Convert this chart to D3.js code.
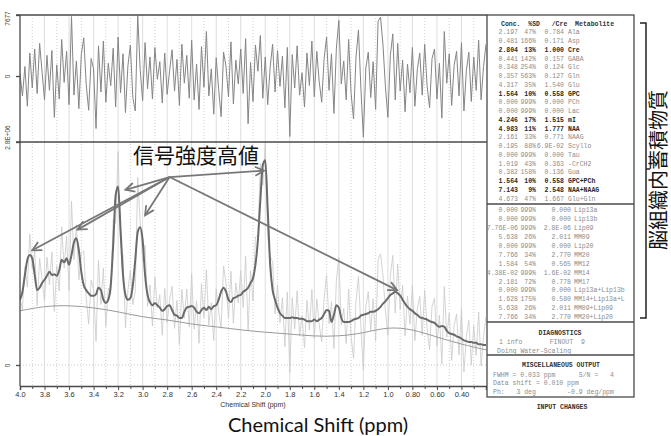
<!DOCTYPE html>
<html>
<head>
<meta charset="utf-8">
<script src="https://cdn.jsdelivr.net/npm/d3@7"></script>
<style>
  body { margin: 0; background: #fff; }
  svg { display: block; }
</style>
</head>
<body>
<svg id="chart" width="671" height="436"></svg>
<script>
// spectrum sampled every 0.02 ppm from 4.00 down to 0.20
var ppmStart = 4.0, ppmStep = 0.02;

// LCModel fit, in units of 1E+06
var fitValues = [
  0.82, 0.92, 1.13, 1.32, 1.38, 1.34, 1.13, 0.94, 0.97, 1.03,
  1.07, 1.12, 1.17, 1.13, 1.14, 1.12, 1.19, 1.32, 1.29, 1.34,
  1.26, 1.38, 1.54, 1.59, 1.44, 1.17, 1.00, 0.94, 0.90, 0.87,
  0.87, 0.89, 0.97, 0.94, 0.82, 0.78, 0.82, 1.00, 1.51, 2.13,
  2.24, 1.70, 1.13, 0.88, 0.82, 0.84, 1.00, 1.32, 1.67, 1.73,
  1.57, 1.13, 0.88, 0.79, 0.75, 0.78, 0.75, 0.72, 0.68, 0.70,
  0.74, 0.75, 0.69, 0.63, 0.62, 0.59, 0.59, 0.67, 0.72, 0.73,
  0.74, 0.72, 0.67, 0.65, 0.69, 0.72, 0.69, 0.73, 0.70, 0.74,
  0.75, 0.82, 0.92, 0.97, 0.92, 0.82, 0.79, 0.84, 0.85, 0.87,
  0.88, 0.92, 0.94, 0.97, 1.03, 1.09, 1.26, 1.57, 2.07, 2.51,
  2.57, 1.95, 1.26, 0.94, 0.82, 0.72, 0.65, 0.62, 0.59, 0.59,
  0.59, 0.60, 0.59, 0.59, 0.58, 0.58, 0.57, 0.55, 0.55, 0.55,
  0.57, 0.55, 0.57, 0.59, 0.64, 0.69, 0.68, 0.54, 0.63, 0.75,
  0.72, 0.59, 0.54, 0.54, 0.54, 0.55, 0.57, 0.58, 0.59, 0.62,
  0.63, 0.64, 0.65, 0.67, 0.67, 0.68, 0.70, 0.73, 0.77, 0.80,
  0.84, 0.88, 0.90, 0.92, 0.90, 0.87, 0.82, 0.77, 0.73, 0.70,
  0.68, 0.65, 0.63, 0.60, 0.59, 0.58, 0.57, 0.55, 0.54, 0.53,
  0.50, 0.48, 0.49, 0.48, 0.43, 0.40, 0.39, 0.38, 0.36, 0.35,
  0.33, 0.31, 0.30, 0.29, 0.29, 0.28, 0.28, 0.26, 0.26, 0.25, 0.25
];

// residual (data - fit), in units of 1000
var residualValues = [
  0.3, -2.5, 1.2, -3.8, 2.9, -1.5, 3.4, -2.2, 4.1, 0.5,
  -3.0, 2.6, -1.8, 3.2, -5.2, 1.4, -2.9, 4.6, -0.8, 3.1,
  -3.6, 7.5, -2.4, 1.9, -4.1, 2.7, 4.8, -1.1, -4.3, 2.2,
  0.9, -6.6, 3.8, -2.0, 4.4, -3.3, 1.6, -1.2, 3.5, -3.9,
  4.9, -2.1, 2.8, -4.6, 1.3, 3.9, -2.7, -4.4, 7.6, 0.8,
  -3.1, 4.2, -1.6, 2.4, -2.9, 3.6, -0.4, 1.8, -3.4, 2.9,
  -2.3, 0.7, 3.3, -1.9, 2.1, -3.7, 4.0, -0.9, 2.6, -2.8,
  4.5, -3.0, 1.5, -4.2, 3.7, -1.4, 5.6, -2.5, 0.9, -4.8,
  2.3, -1.7, -5.1, 3.0, 1.2, -2.6, 4.3, -3.5, 2.0, -1.0,
  3.4, -2.2, 4.7, -6.0, 1.7, -3.2, 3.9, 0.6, 5.1, -2.8,
  2.4, -3.6, 1.1, 4.0, -2.0, 3.2, -1.3, 2.5, -4.0, 3.6,
  -7.6, 2.7, -1.5, 3.8, -2.4, 0.4, -3.9, 2.9, -1.2, 4.4,
  -2.6, 3.1, -0.7, -3.3, 2.2, 4.9, -1.8, 2.8, -4.7, 3.5,
  7.0, -1.0, 1.9, -3.0, 4.6, -2.2, -5.4, 2.4, 5.8, -1.6,
  -7.7, 1.0, 3.0, -2.7, 1.8, -4.2, 6.9, 7.4, 3.9, -1.4,
  -5.2, 2.6, 5.3, -3.0, 4.1, -1.9, 2.0, -4.5, 1.5, -2.1,
  3.6, -3.8, 0.8, 2.9, -2.4, 4.0, -1.3, -4.0, 2.2, 3.4,
  -2.9, 1.6, -5.3, 5.6, -0.9, 2.8, -3.7, 1.3, 3.1, -2.5,
  4.2, -4.4, 0.7, 3.0, -3.2, 2.4, -1.8, 4.5, -3.0, 1.2, 4.0
];
var rawNoiseGain = 0.09; // residual shown on the data trace (1E+06 per 1000)

var baselinePpm = [4.0, 3.8, 3.6, 3.4, 3.2, 3.0, 2.8, 2.6, 2.4, 2.2, 2.0, 1.8, 1.6, 1.4, 1.2, 1.0, 0.8, 0.6, 0.4, 0.2];
var baselineValues = [0.68, 0.74, 0.75, 0.72, 0.67, 0.60, 0.57, 0.51, 0.48, 0.44, 0.41, 0.39, 0.36, 0.36, 0.40, 0.48, 0.45, 0.35, 0.26, 0.19];

var xTickValues = [4.0, 3.8, 3.6, 3.4, 3.2, 3.0, 2.8, 2.6, 2.4, 2.2, 2.0, 1.8, 1.6, 1.4, 1.2, 1.0, 0.8, 0.6, 0.4];
var xTickLabels = ["4.0", "3.8", "3.6", "3.4", "3.2", "3.0", "2.8", "2.6", "2.4", "2.2", "2.0", "1.8", "1.6", "1.4", "1.2", "1.0", "0.80", "0.60", "0.40"];
var xMinorTicks = [3.9, 3.7, 3.5, 3.3, 3.1, 2.9, 2.7, 2.5, 2.3, 2.1, 1.9, 1.7, 1.5, 1.3, 1.1, 0.9, 0.7, 0.5, 0.3];

var residualMax = 7.677, residualMaxLabel = "7677";
var spectrumMax = 2.8, spectrumMaxLabel = "2.8E+06";

// conc, %SD, /Cre, metabolite, bold
var metaboliteRows = [
  ["2.197", "47%", "0.784", "Ala", false],
  ["0.481", "166%", "0.171", "Asp", false],
  ["2.804", "13%", "1.000", "Cre", true],
  ["0.441", "142%", "0.157", "GABA", false],
  ["0.348", "254%", "0.124", "Glc", false],
  ["0.357", "563%", "0.127", "Gln", false],
  ["4.317", "35%", "1.540", "Glu", false],
  ["1.564", "10%", "0.558", "GPC", true],
  ["0.000", "999%", "0.000", "PCh", false],
  ["0.000", "999%", "0.000", "Lac", false],
  ["4.246", "17%", "1.515", "mI", true],
  ["4.983", "11%", "1.777", "NAA", true],
  ["2.161", "33%", "0.771", "NAAG", false],
  ["0.195", "88%", "6.9E-02", "Scyllo", false],
  ["0.000", "999%", "0.000", "Tau", false],
  ["1.019", "43%", "0.363", "-CrCH2", false],
  ["0.382", "158%", "0.136", "Gua", false],
  ["1.564", "10%", "0.558", "GPC+PCh", true],
  ["7.143", "9%", "2.548", "NAA+NAAG", true],
  ["4.673", "47%", "1.667", "Glu+Gln", false]
];
var lipidRows = [
  ["0.000", "999%", "0.000", "Lip13a"],
  ["0.000", "999%", "0.000", "Lip13b"],
  ["7.76E-06", "999%", "2.8E-06", "Lip09"],
  ["5.638", "26%", "2.011", "MM09"],
  ["0.000", "999%", "0.000", "Lip20"],
  ["7.766", "34%", "2.770", "MM20"],
  ["1.584", "54%", "0.565", "MM12"],
  ["4.38E-02", "999%", "1.6E-02", "MM14"],
  ["2.181", "72%", "0.778", "MM17"],
  ["0.000", "999%", "0.000", "Lip13a+Lip13b"],
  ["1.628", "175%", "0.580", "MM14+Lip13a+L"],
  ["5.638", "26%", "2.011", "MM09+Lip09"],
  ["7.766", "34%", "2.770", "MM20+Lip20"]
];
var diagnosticsLines = ["1 info       FINOUT  9", "Doing Water-Scaling"];
var miscLines = ["FWHM = 0.033 ppm      S/N =   4", "Data shift = 0.010 ppm", "Ph:   3 deg        -0.9 deg/ppm"];

// annotation: one label, arrows from a common point to the peaks (ppm, 1E+06)
var arrowOrigin = [2.78, 2.36];
var arrowTargets = [[3.90, 1.44], [3.53, 1.70], [3.14, 2.20], [2.98, 1.88], [2.01, 2.44], [0.925, 0.94]];

var svg = d3.select("#chart");
var left = 20, right = 486, resTop = 15, mid = 142, axisY = 386;

var x = d3.scaleLinear().domain([4.0, 0.2]).range([left, right]);
var yRes = d3.scaleLinear().domain([-8.3, residualMax]).range([mid, resTop]);
var ySpec = d3.scaleLinear().domain([0, spectrumMax]).range([365, mid]);

var ppm = fitValues.map(function(d, i) { return +(ppmStart - i * ppmStep).toFixed(2); });
var rawValues = fitValues.map(function(d, i) { return d + residualValues[i] * rawNoiseGain; });

var defs = svg.append("defs");
defs.append("clipPath").attr("id", "clipTop").append("rect")
  .attr("x", left).attr("y", resTop).attr("width", right - left).attr("height", mid - resTop);
defs.append("clipPath").attr("id", "clipBot").append("rect")
  .attr("x", left).attr("y", mid).attr("width", right - left).attr("height", axisY - mid);
defs.append("marker").attr("id", "arrow")
  .attr("viewBox", "-1 -6 12 12").attr("refX", 9).attr("refY", 0)
  .attr("markerWidth", 12).attr("markerHeight", 12)
  .attr("markerUnits", "userSpaceOnUse").attr("orient", "auto")
  .append("path").attr("d", "M0,-4.5L9,0L0,4.5")
  .attr("fill", "none").attr("stroke", "#777").attr("stroke-width", 1.8);

// grid lines
var grid = svg.append("g");
grid.selectAll(".major").data(xTickValues.slice(1)).enter().append("line")
  .attr("x1", d => x(d)).attr("x2", d => x(d)).attr("y1", resTop).attr("y2", axisY)
  .attr("stroke", "#dedede").attr("stroke-width", 1);
grid.selectAll(".minor").data(xMinorTicks).enter().append("line")
  .attr("x1", d => x(d)).attr("x2", d => x(d)).attr("y1", resTop).attr("y2", axisY)
  .attr("stroke", "#c4c4c4").attr("stroke-width", 0.8).attr("stroke-dasharray", "1,2");
grid.append("line").attr("x1", left).attr("x2", right).attr("y1", ySpec(0)).attr("y2", ySpec(0))
  .attr("stroke", "#bbb").attr("stroke-width", 0.8).attr("stroke-dasharray", "1,2");

// residual panel
svg.append("path").datum(residualValues)
  .attr("clip-path", "url(#clipTop)")
  .attr("fill", "none").attr("stroke", "#858585").attr("stroke-width", 1)
  .attr("d", d3.line().x((d, i) => x(ppm[i])).y(d => yRes(d)));

// spectrum panel
var bot = svg.append("g").attr("clip-path", "url(#clipBot)");
bot.append("path").datum(rawValues)
  .attr("fill", "none").attr("stroke", "#c9c9c9").attr("stroke-width", 0.8)
  .attr("d", d3.line().x((d, i) => x(ppm[i])).y(d => ySpec(d)));
bot.append("path").datum(baselineValues)
  .attr("fill", "none").attr("stroke", "#9a9a9a").attr("stroke-width", 1)
  .attr("d", d3.line().curve(d3.curveBasis).x((d, i) => x(baselinePpm[i])).y(d => ySpec(d)));
bot.append("path").datum(fitValues)
  .attr("fill", "none").attr("stroke", "#6a6a6a").attr("stroke-width", 2)
  .attr("d", d3.line().curve(d3.curveMonotoneX).x((d, i) => x(ppm[i])).y(d => ySpec(d)));

// frame
var frame = svg.append("g").attr("stroke", "#4a4a4a").attr("stroke-width", 1.3);
frame.append("line").attr("x1", left - 4).attr("x2", right + 1).attr("y1", resTop).attr("y2", resTop);
frame.append("line").attr("x1", left - 4).attr("x2", right + 1).attr("y1", mid).attr("y2", mid);
frame.append("line").attr("x1", left).attr("x2", left).attr("y1", resTop).attr("y2", axisY);

// x axis
var xAxis = svg.append("g").attr("transform", "translate(0," + axisY + ")")
  .call(d3.axisBottom(x).tickValues(xTickValues).tickFormat((d, i) => xTickLabels[i]).tickSize(4).tickPadding(2));
svg.append("g").attr("transform", "translate(0," + axisY + ")")
  .call(d3.axisBottom(x).tickValues(xMinorTicks).tickFormat("").tickSize(3))
  .select(".domain").remove();
svg.selectAll(".tick line").attr("stroke", "#4a4a4a");
xAxis.select(".domain").attr("stroke", "#4a4a4a").attr("stroke-width", 1.5);
xAxis.selectAll("text").attr("font-family", "Liberation Sans, Arial, sans-serif")
  .attr("font-size", 7.5).attr("fill", "#333");

// y axes with rotated labels
function leftAxis(scale, values, labels) {
  var g = svg.append("g").attr("transform", "translate(" + left + ",0)")
    .call(d3.axisLeft(scale).tickValues(values).tickFormat((d, i) => labels[i]).tickSize(4));
  g.select(".domain").remove();
  g.selectAll(".tick line").attr("stroke", "#4a4a4a").attr("stroke-width", 1.3);
  g.selectAll("text").attr("transform", "rotate(-90)").attr("x", 0).attr("y", -10).attr("dy", 0)
    .attr("text-anchor", "middle").attr("font-family", "Liberation Sans, Arial, sans-serif")
    .attr("font-size", 6.5).attr("fill", "#444");
  return g;
}
var topAxis = leftAxis(yRes, [0, residualMax], ["0", residualMaxLabel]);
topAxis.selectAll("text").filter((d, i) => i === 1).attr("x", -3);
var botAxis = leftAxis(ySpec, [0, spectrumMax], ["0", spectrumMaxLabel]);
botAxis.selectAll("text").filter((d, i) => i === 1).attr("x", 5);

svg.append("text").attr("x", 253).attr("y", 407).attr("text-anchor", "middle")
  .attr("font-family", "Liberation Sans, Arial, sans-serif").attr("font-size", 7)
  .attr("fill", "#333").text("Chemical Shift (ppm)");

// annotation arrows
var ann = svg.append("g");
ann.selectAll("line").data(arrowTargets).enter().append("line")
  .attr("x1", x(arrowOrigin[0])).attr("y1", ySpec(arrowOrigin[1]))
  .attr("x2", d => x(d[0])).attr("y2", d => ySpec(d[1]))
  .attr("stroke", "#777").attr("stroke-width", 1.8).attr("marker-end", "url(#arrow)");
ann.append("text").attr("x", 133).attr("y", 163)
  .attr("font-family", "Noto Sans CJK JP, sans-serif").attr("font-size", 21)
  .attr("fill", "#111").text("信号強度高値");

// results table
var mono = "Liberation Mono, DejaVu Sans Mono, monospace";
var tableX = 487, tableR = 634;
var table = svg.append("g").attr("font-family", mono).attr("font-size", 6.5);
table.append("rect").attr("x", tableX).attr("y", resTop).attr("width", tableR - tableX).attr("height", 397 - resTop)
  .attr("fill", "#fff").attr("stroke", "#4a4a4a").attr("stroke-width", 1.3);
[204, 322, 355].forEach(function(yy) {
  table.append("line").attr("x1", tableX).attr("x2", tableR).attr("y1", yy).attr("y2", yy)
    .attr("stroke", "#4a4a4a").attr("stroke-width", 1.3);
});
table.append("text").attr("x", 501).attr("y", 25.5).attr("xml:space", "preserve")
  .style("white-space", "pre").attr("font-weight", "bold").attr("fill", "#333")
  .text("Conc.  %SD   /Cre  Metabolite");

function tableRows(rows, y0, step, creEnd, nameX) {
  rows.forEach(function(r, i) {
    var yy = y0 + i * step;
    var bold = r[4] === true;
    var g = table.append("g").attr("fill", bold ? "#2a2a2a" : "#8c8c8c")
      .attr("font-weight", bold ? "bold" : "normal");
    g.append("text").attr("x", 518).attr("y", yy).attr("text-anchor", "end").text(r[0]);
    g.append("text").attr("x", 536).attr("y", yy).attr("text-anchor", "end").text(r[1]);
    g.append("text").attr("x", creEnd).attr("y", yy).attr("text-anchor", "end").text(r[2]);
    g.append("text").attr("x", nameX).attr("y", yy).text(r[3]);
  });
}
tableRows(metaboliteRows, 34.3, 8.75, 564, 568);
tableRows(lipidRows, 212.3, 8.9, 571, 574);

table.append("text").attr("x", 560).attr("y", 334.5).attr("text-anchor", "middle")
  .attr("font-weight", "bold").attr("fill", "#333").text("DIAGNOSTICS");
table.append("text").attr("x", 499).attr("y", 343.5).attr("xml:space", "preserve").style("white-space", "pre")
  .attr("fill", "#8c8c8c").text(diagnosticsLines[0]);
table.append("text").attr("x", 497).attr("y", 352.5).attr("fill", "#8c8c8c").text(diagnosticsLines[1]);
table.append("text").attr("x", 561).attr("y", 367).attr("text-anchor", "middle")
  .attr("font-weight", "bold").attr("fill", "#333").text("MISCELLANEOUS OUTPUT");
miscLines.forEach(function(t, i) {
  table.append("text").attr("x", 493).attr("y", 376.5 + i * 8.8).attr("xml:space", "preserve")
    .style("white-space", "pre").attr("fill", "#8c8c8c").text(t);
});
table.append("text").attr("x", 562).attr("y", 409).attr("text-anchor", "middle")
  .attr("font-weight", "bold").attr("fill", "#333").text("INPUT CHANGES");

// bracket and vertical label
svg.append("path").attr("d", "M640,23H646V318H640M646,169H650")
  .attr("fill", "none").attr("stroke", "#222").attr("stroke-width", 1.5);
svg.append("text").attr("transform", "translate(666,170) rotate(-90)")
  .attr("text-anchor", "middle").attr("font-family", "Noto Sans CJK JP, sans-serif")
  .attr("font-size", 20).attr("fill", "#111").text("脳組織内蓄積物質");

// big axis caption
svg.append("text").attr("x", 318).attr("y", 432).attr("text-anchor", "middle")
  .attr("font-family", "Lato, Open Sans, sans-serif").attr("font-size", 20)
  .attr("fill", "#111").text("Chemical Shift (ppm)");
</script>
</body>
</html>
